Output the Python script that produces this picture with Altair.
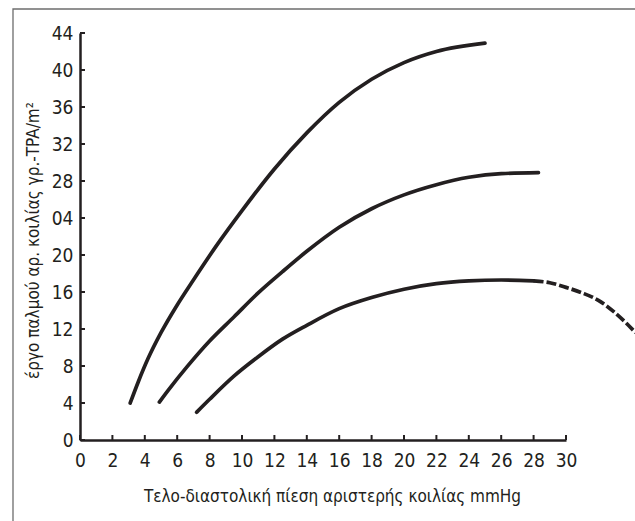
import altair as alt
import pandas as pd

# ---- data ----
x_tick_values = list(range(0, 32, 2))
y_tick_values = [0, 4, 8, 12, 16, 20, 24, 28, 32, 36, 40, 44]
y_tick_labels = ["0", "4", "8", "12", "16", "20", "04", "28", "32", "36", "40", "44"]

curve1_x = [3.1, 3.6, 4.2, 5.0, 6.0, 7.0, 8.5, 10.0, 12.0, 14.0, 16.0, 18.0, 20.0, 22.0, 25.0]
curve1_y = [4.0, 6.3, 8.8, 11.6, 14.6, 17.3, 21.2, 24.8, 29.3, 33.2, 36.5, 39.0, 40.8, 42.0, 42.9]

curve2_x = [4.9, 5.5, 6.6, 8.0, 9.5, 11.0, 12.5, 14.0, 16.0, 18.0, 20.0, 22.0, 24.0, 26.0, 28.3]
curve2_y = [4.1, 5.5, 7.9, 10.7, 13.3, 15.9, 18.2, 20.4, 23.0, 25.0, 26.5, 27.6, 28.4, 28.8, 28.9]

curve3_x = [7.2, 8.0, 9.5, 11.0, 12.5, 14.0, 16.0, 18.0, 20.0, 22.0, 24.0, 26.0, 28.0]
curve3_y = [3.0, 4.4, 6.9, 9.0, 10.9, 12.4, 14.2, 15.4, 16.3, 16.9, 17.2, 17.3, 17.2]

curve3_dash_x = [28.0, 29.0, 30.0, 31.0, 32.0, 33.0, 34.3]
curve3_dash_y = [17.2, 17.0, 16.5, 15.9, 15.1, 13.8, 11.6]

x_title = "Τελο-διαστολική πίεση αριστερής κοιλίας mmHg"
y_title = "έργο παλμού αρ. κοιλίας γρ.-TPA/m²"

FONT = "DejaVu Sans Condensed, Liberation Sans Narrow, sans-serif"
INK = "#231f20"
W, H = 486, 407

rows = []
for name, xs, ys in [("a", curve1_x, curve1_y), ("b", curve2_x, curve2_y), ("c", curve3_x, curve3_y)]:
    for i, (xv, yv) in enumerate(zip(xs, ys)):
        rows.append({"series": name, "x": xv, "y": yv, "order": i})
solid = pd.DataFrame(rows)
dashed = pd.DataFrame({"x": curve3_dash_x, "y": curve3_dash_y, "order": list(range(len(curve3_dash_x)))})

label_expr = "".join(
    f"datum.value == {v} ? '{l}' : " for v, l in zip(y_tick_values, y_tick_labels)
) + "datum.label"

X = alt.X(
    "x:Q",
    scale=alt.Scale(domain=[0, 30], nice=False, zero=False),
    axis=alt.Axis(
        values=x_tick_values,
        title=x_title,
        grid=False,
        ticks=False,
        domainColor=INK,
        domainWidth=2.5,
        labelFont=FONT,
        labelFontSize=19,
        labelColor=INK,
        labelPadding=11,
        labelFlush=False,
        titleFont=FONT,
        titleFontSize=17,
        titleFontWeight="normal",
        titleColor=INK,
        titleBaseline="alphabetic",
        titleY=61,
        titleX=252,
    ),
)
Y = alt.Y(
    "y:Q",
    scale=alt.Scale(domain=[0, 44], nice=False),
    axis=alt.Axis(
        values=y_tick_values,
        labelExpr=label_expr,
        title=y_title,
        grid=False,
        ticks=False,
        domainColor=INK,
        domainWidth=2.5,
        labelFont=FONT,
        labelFontSize=19,
        labelColor=INK,
        labelPadding=7,
        labelFlush=False,
        titleFont=FONT,
        titleFontSize=17,
        titleFontWeight="normal",
        titleColor=INK,
        titleX=-47,
        titleY=207,
        titleBaseline="middle",
    ),
)

lines = alt.Chart(solid).mark_line(
    color=INK, strokeWidth=3.7, strokeCap="round", interpolate="monotone", clip=False
).encode(x=X, y=Y, detail="series:N", order="order:Q")

dash = alt.Chart(dashed).mark_line(
    color=INK, strokeWidth=3.7, strokeDash=[10, 3], interpolate="monotone", clip=False
).encode(x=X, y=Y, order="order:Q")

xticks = alt.Chart(pd.DataFrame({"x": x_tick_values})).mark_rule(
    color=INK, strokeWidth=2
).encode(x=X, y=alt.value(H), y2=alt.value(H - 5))

yticks = alt.Chart(pd.DataFrame({"y": y_tick_values})).mark_rule(
    color=INK, strokeWidth=2
).encode(y=Y, x=alt.value(0), x2=alt.value(5))

frame = alt.Chart(pd.DataFrame({"k": [0]})).mark_rect(
    fill="white", fillOpacity=0, stroke="#6d6d6d", strokeWidth=1.3, clip=False
).encode(x=alt.value(-67), x2=alt.value(720), y=alt.value(-24), y2=alt.value(640))

chart = alt.layer(frame, lines, dash, xticks, yticks).properties(
    width=W,
    height=H,
    autosize=alt.AutoSizeParams(type="none"),
    padding={"left": 80, "top": 33, "right": 69, "bottom": 81},
    background="white",
).configure_view(stroke=None)

chart.save("out.html", embed_options={"renderer": "svg", "actions": False})
